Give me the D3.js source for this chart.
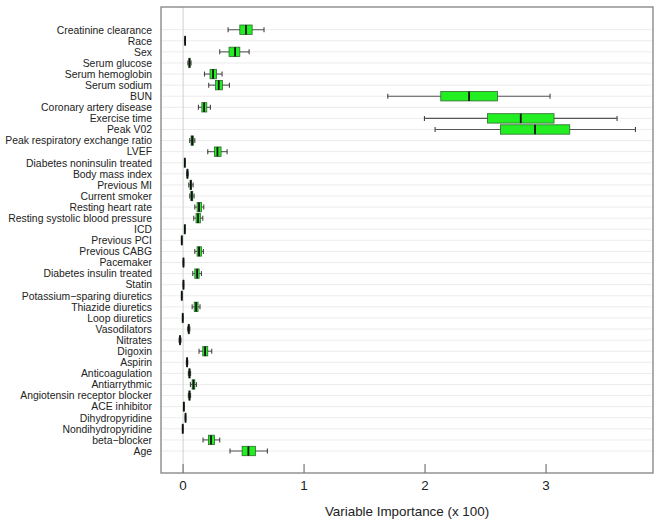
<!DOCTYPE html>
<html><head><meta charset="utf-8">
<script src="https://cdn.jsdelivr.net/npm/d3@7"></script>
<style>body{margin:0;background:#fff}svg{display:block}text{font-family:"Liberation Sans",Arial,sans-serif;fill:#222}</style>
</head><body>
<svg id="c" width="660" height="524"></svg>
<script>
const variables = ["Creatinine clearance","Race","Sex","Serum glucose","Serum hemoglobin","Serum sodium","BUN","Coronary artery disease","Exercise time","Peak V02","Peak respiratory exchange ratio","LVEF","Diabetes noninsulin treated","Body mass index","Previous MI","Current smoker","Resting heart rate","Resting systolic blood pressure","ICD","Previous PCI","Previous CABG","Pacemaker","Diabetes insulin treated","Statin","Potassium\u2212sparing diuretics","Thiazide diuretics","Loop diuretics","Vasodilators","Nitrates","Digoxin","Aspirin","Anticoagulation","Antiarrythmic","Angiotensin receptor blocker","ACE inhibitor","Dihydropyridine","Nondihydropyridine","beta\u2212blocker","Age"];
// whisker low, q1, median, q3, whisker high
const whiskerLow = [0.372,0.015,0.303,0.040,0.177,0.212,1.692,0.127,1.995,2.083,0.055,0.204,0.012,0.030,0.047,0.055,0.097,0.088,0.012,-0.013,0.097,0.001,0.080,0.001,-0.013,0.075,-0.005,0.038,-0.033,0.132,0.027,0.044,0.061,0.044,0.004,0.018,-0.005,0.165,0.388];
const q1 = [0.469,0.016,0.380,0.048,0.223,0.268,2.130,0.155,2.516,2.623,0.066,0.259,0.013,0.033,0.058,0.064,0.116,0.107,0.013,-0.012,0.116,0.002,0.097,0.002,-0.012,0.092,-0.004,0.043,-0.028,0.163,0.031,0.049,0.075,0.049,0.005,0.019,-0.004,0.210,0.488];
const median = [0.520,0.017,0.430,0.053,0.248,0.295,2.364,0.174,2.791,2.909,0.075,0.284,0.014,0.036,0.064,0.072,0.132,0.124,0.014,-0.011,0.132,0.003,0.116,0.003,-0.011,0.108,-0.003,0.047,-0.025,0.182,0.033,0.053,0.086,0.053,0.006,0.020,-0.003,0.231,0.540];
const q3 = [0.571,0.018,0.469,0.058,0.276,0.325,2.598,0.196,3.066,3.196,0.086,0.314,0.015,0.039,0.070,0.080,0.152,0.143,0.015,-0.010,0.152,0.004,0.133,0.004,-0.010,0.124,-0.002,0.051,-0.022,0.204,0.035,0.057,0.097,0.057,0.007,0.021,-0.002,0.259,0.598];
const whiskerHigh = [0.669,0.019,0.546,0.066,0.322,0.383,3.033,0.226,3.587,3.739,0.097,0.364,0.016,0.042,0.083,0.091,0.171,0.163,0.016,-0.009,0.168,0.005,0.152,0.005,-0.009,0.140,-0.001,0.056,-0.017,0.237,0.039,0.062,0.110,0.062,0.008,0.022,-0.001,0.303,0.697];
const xTicks = [0,1,2,3];
const xTitle = "Variable Importance (x 100)";

const svg = d3.select("#c");
const L = 161, R = 653, T = 7, B = 473;
const x = d3.scaleLinear().domain([-0.1824, 3.884]).range([L, R]);
const y = d3.scalePoint().domain(variables).range([29.7, 451]);

// grid lines
svg.append("g").selectAll("line").data(variables).join("line")
  .attr("x1", L).attr("x2", R).attr("y1", d => y(d)).attr("y2", d => y(d))
  .attr("stroke", "#ececec").attr("stroke-width", 1);
// zero line
svg.append("line").attr("x1", x(0)).attr("x2", x(0)).attr("y1", T).attr("y2", B)
  .attr("stroke", "#d0d0d0").attr("stroke-width", 1);

// frame
svg.append("rect").attr("x", L).attr("y", T).attr("width", R - L).attr("height", B - T)
  .attr("fill", "none").attr("stroke", "#8a8a8a").attr("stroke-width", 1.4);

// x axis ticks inside
const ax = svg.append("g");
ax.selectAll("line").data(xTicks).join("line")
  .attr("x1", d => x(d)).attr("x2", d => x(d)).attr("y1", B).attr("y2", B - 9)
  .attr("stroke", "#777").attr("stroke-width", 1.2);
ax.selectAll("text").data(xTicks).join("text")
  .attr("x", d => x(d)).attr("y", 490).attr("text-anchor", "middle")
  .attr("font-size", 13.4).text(d => d);
svg.append("text").attr("x", 407).attr("y", 516).attr("text-anchor", "middle")
  .attr("font-size", 13.4).text(xTitle);

// labels
svg.append("g").selectAll("text").data(variables).join("text")
  .attr("x", 152).attr("y", d => y(d) + 3.8).attr("text-anchor", "end")
  .attr("font-size", 10.4).text(d => d);

// boxplots
const bh = 9.4;
const g = svg.append("g").selectAll("g").data(variables).join("g");
g.append("line").attr("x1", (d,i) => x(whiskerLow[i])).attr("x2", (d,i) => x(whiskerHigh[i]))
  .attr("y1", d => y(d)).attr("y2", d => y(d)).attr("stroke", "#555").attr("stroke-width", 1.1);
g.append("line").attr("x1", (d,i) => x(whiskerLow[i])).attr("x2", (d,i) => x(whiskerLow[i]))
  .attr("y1", d => y(d) - 2.5).attr("y2", d => y(d) + 2.5).attr("stroke", "#444").attr("stroke-width", 1.1);
g.append("line").attr("x1", (d,i) => x(whiskerHigh[i])).attr("x2", (d,i) => x(whiskerHigh[i]))
  .attr("y1", d => y(d) - 2.5).attr("y2", d => y(d) + 2.5).attr("stroke", "#444").attr("stroke-width", 1.1);
g.append("rect").attr("x", (d,i) => x(q1[i])).attr("width", (d,i) => Math.max(0.5, x(q3[i]) - x(q1[i])))
  .attr("y", d => y(d) - bh/2).attr("height", bh)
  .attr("fill", "#22ee22").attr("stroke", "#2f6a2f").attr("stroke-width", 0.8);
g.append("line").attr("x1", (d,i) => x(median[i])).attr("x2", (d,i) => x(median[i]))
  .attr("y1", d => y(d) - bh/2).attr("y2", d => y(d) + bh/2).attr("stroke", "#111").attr("stroke-width", 1.8);
</script>
</body></html>
